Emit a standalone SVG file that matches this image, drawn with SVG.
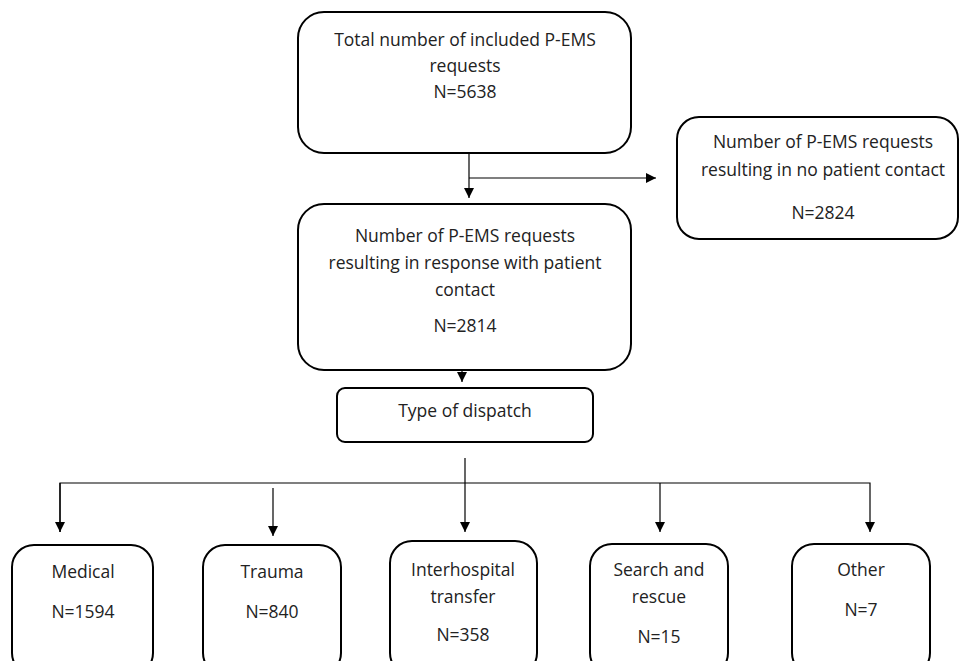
<svg xmlns="http://www.w3.org/2000/svg" width="960" height="661" viewBox="0 0 960 661">
<style>
.box{fill:#fff;stroke:#000;stroke-width:2}
.t{font-family:"Open Sans","Liberation Sans",sans-serif;font-size:17.5px;fill:#222;text-anchor:middle}
.c{stroke:#000;stroke-width:1.2;fill:none}
</style>
<defs>
<marker id="ah" viewBox="0 0 10 10" refX="10" refY="5" markerWidth="10" markerHeight="10" markerUnits="userSpaceOnUse" orient="auto">
<path d="M0,0 L10,5 L0,10 Z" fill="#000"/>
</marker>
</defs>
<rect width="960" height="661" fill="#fff"/>
<g id="connectors">
<line class="c" x1="469" y1="153" x2="469" y2="198" marker-end="url(#ah)"/>
<line class="c" x1="469" y1="178" x2="656" y2="178" marker-end="url(#ah)"/>
<line class="c" x1="462" y1="352" x2="462" y2="382" marker-end="url(#ah)"/>
<line class="c" x1="465" y1="458" x2="465" y2="532" marker-end="url(#ah)"/>
<polyline class="c" points="60,532 60,483 870,483 870,532" marker-end="url(#ah)"/>
<line class="c" x1="60" y1="483" x2="60" y2="532" marker-end="url(#ah)"/>
<line class="c" x1="273" y1="488" x2="273" y2="536" marker-end="url(#ah)"/>
<line class="c" x1="660" y1="483" x2="660" y2="532" marker-end="url(#ah)"/>
</g>
<g id="total">
<rect class="box" x="298" y="12" width="333" height="141" rx="26"/>
<text class="t" x="465" y="46">Total number of included P-EMS</text>
<text class="t" x="465" y="72">requests</text>
<text class="t" x="465" y="98">N=5638</text>
</g>
<g id="nocontact">
<rect class="box" x="677" y="117" width="281" height="122" rx="22"/>
<text class="t" x="823" y="148">Number of P-EMS requests</text>
<text class="t" x="823" y="176">resulting in no patient contact</text>
<text class="t" x="823" y="219">N=2824</text>
</g>
<g id="contact">
<rect class="box" x="298" y="204" width="333" height="166" rx="26"/>
<text class="t" x="465" y="242">Number of P-EMS requests</text>
<text class="t" x="465" y="269">resulting in response with patient</text>
<text class="t" x="465" y="296">contact</text>
<text class="t" x="465" y="332">N=2814</text>
</g>
<g id="dispatch">
<rect class="box" x="337" y="388" width="256" height="54" rx="8"/>
<text class="t" x="465" y="417">Type of dispatch</text>
</g>
<g id="medical">
<rect class="box" x="12" y="545" width="141" height="130" rx="22"/>
<text class="t" x="83" y="578">Medical</text>
<text class="t" x="83" y="618">N=1594</text>
</g>
<g id="trauma">
<rect class="box" x="203" y="545" width="138" height="130" rx="22"/>
<text class="t" x="272" y="578">Trauma</text>
<text class="t" x="272" y="618">N=840</text>
</g>
<g id="interhospital">
<rect class="box" x="390" y="541" width="147" height="134" rx="22"/>
<text class="t" x="463" y="576">Interhospital</text>
<text class="t" x="463" y="603">transfer</text>
<text class="t" x="463" y="641">N=358</text>
</g>
<g id="search">
<rect class="box" x="590" y="544" width="138" height="131" rx="22"/>
<text class="t" x="659" y="576">Search and</text>
<text class="t" x="659" y="603">rescue</text>
<text class="t" x="659" y="643">N=15</text>
</g>
<g id="other">
<rect class="box" x="792" y="544" width="138" height="131" rx="22"/>
<text class="t" x="861" y="576">Other</text>
<text class="t" x="861" y="616">N=7</text>
</g>
</svg>
